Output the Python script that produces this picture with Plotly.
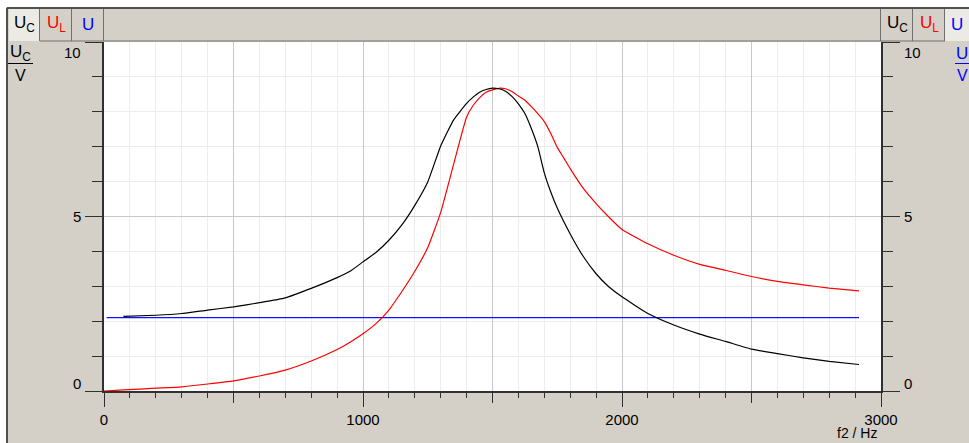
import plotly.graph_objects as go

# Measured resonance curves of the series circuit
f_uc = [75, 200, 300, 400, 500, 600, 700, 800, 900, 950,
        1000, 1050, 1100, 1150, 1200, 1250, 1300, 1350, 1400, 1425,
        1450, 1475, 1500, 1525, 1550, 1575, 1600, 1625, 1650, 1675,
        1700, 1725, 1750, 1800, 1850, 1900, 1950,
        2000, 2100, 2200, 2300, 2400, 2500, 2600, 2700, 2800, 2915]
u_c = [2.14, 2.17, 2.22, 2.32, 2.41, 2.53, 2.67, 2.94, 3.25, 3.43,
       3.70, 3.97, 4.32, 4.76, 5.32, 5.99, 7.02, 7.77, 8.24, 8.42,
       8.56, 8.64, 8.68, 8.66, 8.59, 8.44, 8.23, 7.95, 7.52, 7.00,
       6.25, 5.70, 5.24, 4.50, 3.86, 3.36, 2.98,
       2.70, 2.22, 1.89, 1.63, 1.42, 1.20, 1.07, 0.95, 0.85, 0.76]

f_ul = [0, 75, 200, 300, 400, 500, 600, 700, 800, 900, 950,
        1000, 1050, 1100, 1150, 1200, 1250, 1300, 1350, 1375, 1400, 1425,
        1450, 1475, 1500, 1530, 1550, 1575, 1600, 1625, 1650, 1675, 1700,
        1725, 1750, 1775, 1800, 1850, 1900, 1950,
        2000, 2100, 2200, 2300, 2400, 2500, 2600, 2700, 2800, 2915]
u_l = [0.00, 0.03, 0.08, 0.12, 0.20, 0.29, 0.43, 0.60, 0.86, 1.19, 1.40,
       1.64, 1.93, 2.32, 2.85, 3.43, 4.11, 5.12, 6.50, 7.20, 7.85, 8.18,
       8.40, 8.56, 8.63, 8.68, 8.66, 8.58, 8.45, 8.33, 8.15, 7.95, 7.72,
       7.38, 6.98, 6.68, 6.37, 5.81, 5.37, 4.98,
       4.63, 4.22, 3.89, 3.63, 3.46, 3.28, 3.14, 3.04, 2.95, 2.87]

f_u = [10, 2915]
u_src = [2.1, 2.1]

x_ticks = [0, 1000, 2000, 3000]
y_ticks = [0, 5, 10]

W, H = 969, 443
L, R, T, B = 104, 88, 42, 52
PW, PH = W - L - R, H - T - B
FONT = "Liberation Sans, Arial, sans-serif"
PANEL = "#D4D0C8"
SEL = "#ECEAE4"
EDGE = "#707070"


def px(x):
    return (x - L) / PW


def py(y):
    return (H - B - y) / PH


fig = go.Figure()
fig.add_trace(go.Scatter(x=f_u, y=u_src, mode="lines", name="U",
                         line=dict(color="#1010FF", width=1.3)))
fig.add_trace(go.Scatter(x=f_ul, y=u_l, mode="lines", name="UL",
                         line=dict(color="#FF0000", width=1.2,
                                   shape="spline", smoothing=0.4)))
fig.add_trace(go.Scatter(x=f_uc, y=u_c, mode="lines", name="UC",
                         line=dict(color="#000000", width=1.2,
                                   shape="spline", smoothing=0.4)))

axis_line = dict(showline=True, linecolor="#303030", linewidth=2,
                 ticks="outside", tickcolor="#303030", tickwidth=1,
                 zeroline=False, fixedrange=True)

fig.update_layout(
    width=W, height=H,
    margin=dict(l=L, r=R, t=T, b=B, pad=0),
    paper_bgcolor=PANEL, plot_bgcolor="white",
    showlegend=False,
    font=dict(family=FONT, size=15, color="#000000"),
    xaxis=dict(range=[0, 3000], dtick=500, tick0=0, ticklen=10,
               showticklabels=False, showgrid=True, gridcolor="#C8C8C8",
               gridwidth=1,
               minor=dict(dtick=100, ticklen=5, tickcolor="#303030",
                          showgrid=True, gridcolor="#EDEDED"),
               **axis_line),
    xaxis2=dict(range=[0, 3000], overlaying="x", anchor="y", side="bottom",
                tickvals=x_ticks, ticktext=[str(v) for v in x_ticks],
                ticks="outside", ticklen=15, tickcolor="#303030",
                tickwidth=1, showgrid=False, showline=False,
                zeroline=False, tickfont=dict(size=15, family=FONT)),
    yaxis=dict(range=[0, 10], dtick=5, tick0=0, ticklen=17,
               showticklabels=False, showgrid=True, gridcolor="#C8C8C8",
               minor=dict(dtick=1, ticklen=10, tickcolor="#303030",
                          showgrid=True, gridcolor="#EDEDED"),
               **axis_line),
    yaxis2=dict(range=[0, 10], overlaying="y", side="right", anchor="x",
                dtick=5, tick0=0, ticklen=17, showticklabels=False,
                showgrid=False,
                minor=dict(dtick=1, ticklen=10, tickcolor="#303030"),
                **axis_line),
)
# invisible trace so the overlay axes are laid out
fig.add_trace(go.Scatter(x=[0], y=[0], xaxis="x2", yaxis="y2",
                         mode="markers", marker=dict(opacity=0),
                         hoverinfo="skip"))

shapes = []
# outer white frame
shapes.append(dict(type="rect", xref="paper", yref="paper",
                   x0=px(0), x1=px(W), y0=py(0), y1=py(7),
                   fillcolor="white", line=dict(width=0), layer="below"))
shapes.append(dict(type="rect", xref="paper", yref="paper",
                   x0=px(0), x1=px(6), y0=py(0), y1=py(H),
                   fillcolor="white", line=dict(width=0), layer="below"))
# selected tabs
shapes.append(dict(type="rect", xref="paper", yref="paper",
                   x0=px(9), x1=px(39), y0=py(9), y1=py(41),
                   fillcolor=SEL, line=dict(width=0), layer="below"))
shapes.append(dict(type="rect", xref="paper", yref="paper",
                   x0=px(945), x1=px(W), y0=py(9), y1=py(41),
                   fillcolor=SEL, line=dict(width=0), layer="below"))
# frame borders
shapes.append(dict(type="line", xref="paper", yref="paper",
                   x0=px(7), x1=px(W), y0=py(8), y1=py(8),
                   line=dict(color="#505050", width=2)))
shapes.append(dict(type="line", xref="paper", yref="paper",
                   x0=px(7), x1=px(7), y0=py(8), y1=py(H),
                   line=dict(color="#505050", width=2)))
# tab separators
for xs in (39.5, 71.5, 103.5, 880.5, 912.5, 944.5):
    shapes.append(dict(type="line", xref="paper", yref="paper",
                       x0=px(xs), x1=px(xs), y0=py(9), y1=py(41),
                       line=dict(color=EDGE, width=1)))
# bottom edge of the tab row
shapes.append(dict(type="line", xref="paper", yref="paper",
                   x0=px(40), x1=px(945), y0=py(41), y1=py(41),
                   line=dict(color=EDGE, width=1)))
# unit fraction bars
shapes.append(dict(type="line", xref="paper", yref="paper",
                   x0=px(8), x1=px(33), y0=py(63.5), y1=py(63.5),
                   line=dict(color="#000000", width=1)))
shapes.append(dict(type="line", xref="paper", yref="paper",
                   x0=px(955), x1=px(W), y0=py(63.5), y1=py(63.5),
                   line=dict(color="#0000FF", width=1)))
fig.update_layout(shapes=shapes)

ann = []


def text(x, y, s, color="#000000", size=15, xanchor="center"):
    ann.append(dict(xref="paper", yref="paper", x=px(x), y=py(y), text=s,
                    showarrow=False, xanchor=xanchor, yanchor="middle",
                    font=dict(family=FONT, size=size, color=color)))


# tab captions
text(24, 24, "U<sub>C</sub>", size=17)
text(56, 24, "U<sub>L</sub>", color="#FF0000", size=17)
text(88, 24, "U", color="#0000FF", size=17)
text(897, 24, "U<sub>C</sub>", size=17)
text(929, 24, "U<sub>L</sub>", color="#FF0000", size=17)
text(957, 24, "U", color="#0000FF", size=17)
# axis unit captions
text(20, 53, "U<sub>C</sub>", size=17)
text(20, 75, "V", size=16)
text(962, 53, "U", color="#0000FF", size=17)
text(962, 75, "V", color="#0000FF", size=16)
# y tick labels, end labels kept inside the axis span
shift = {0: 8, 5: 0, 10: -10}
for v in y_ticks:
    ann.append(dict(xref="paper", yref="y", x=px(83), y=v, text=str(v),
                    showarrow=False, xanchor="right", yanchor="middle",
                    yshift=shift[v], font=dict(family=FONT, size=15)))
    ann.append(dict(xref="paper", yref="y", x=px(902), y=v, text=str(v),
                    showarrow=False, xanchor="left", yanchor="middle",
                    yshift=shift[v], font=dict(family=FONT, size=15)))
# frequency axis title
text(879, 433, "f2 / Hz", size=14, xanchor="right")
fig.update_layout(annotations=ann)

fig.write_html("out.html")
